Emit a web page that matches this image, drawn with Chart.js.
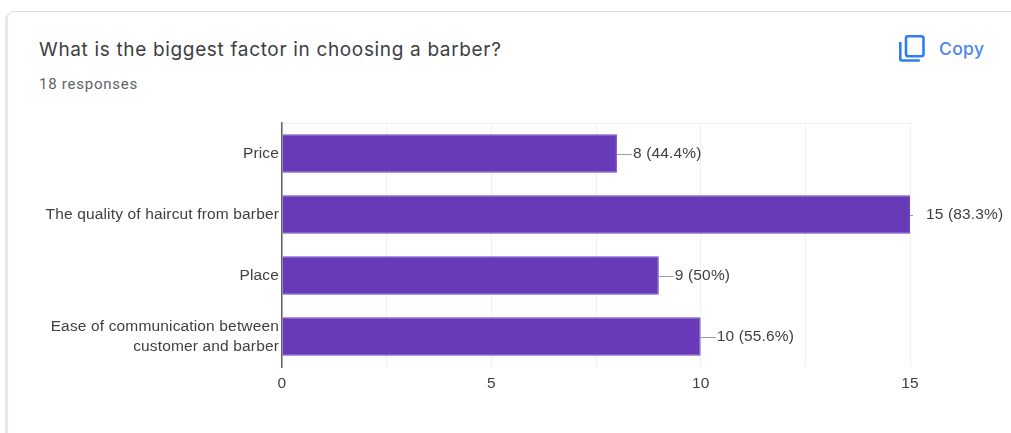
<!DOCTYPE html>
<html>
<head>
<meta charset="utf-8">
<title>Barber survey</title>
<script src="https://cdn.jsdelivr.net/npm/chart.js@4/dist/chart.umd.min.js"></script>
<style>
    html, body { margin: 0; padding: 0; background: #fff; overflow: hidden; }
    #page { position: relative; width: 1011px; height: 433px; }
    #chartBox { position: absolute; left: 0; top: 0; width: 1011px; height: 433px; }
    /* Tarjeta del formulario, se corta por la derecha y por abajo */
    .card {
        position: absolute; left: 5px; top: 11px; width: 1100px; height: 500px;
        box-sizing: border-box;
        border-top: 1.5px solid #dedde2;
        border-left: 3px solid #e8e6f3;
        border-top-left-radius: 9px;
    }
    .title {
        position: absolute; left: 39px; top: 38px;
        font: 400 19px Inter, sans-serif; letter-spacing: 0.66px; color: #3c4043;
        white-space: nowrap;
    }
    .responses {
        position: absolute; left: 39px; top: 75px;
        font: 400 15px Roboto, sans-serif; letter-spacing: 0.75px; color: #5f6368;
        white-space: nowrap;
    }
    .copy {
        position: absolute; left: 939px; top: 38px;
        font: 500 17.5px Inter, sans-serif; letter-spacing: 0.35px; color: #4a86f0;
        white-space: nowrap;
    }
    .icon { position: absolute; left: 896px; top: 32px; }
</style>
</head>
<body>
<div id="page">
    <div class="card"></div>
    <div class="title">What is the biggest factor in choosing a barber?</div>
    <div class="responses">18 responses</div>
    <svg class="icon" width="32" height="32" viewBox="0 0 32 32" fill="none" stroke="#2f7df0" stroke-width="2.6">
        <rect x="10" y="4.3" width="17.5" height="20" rx="2"/>
        <path d="M4.3 10v17a1.5 1.5 0 0 0 1.5 1.5h18"/>
    </svg>
    <div class="copy">Copy</div>
    <div id="chartBox"><canvas id="factorChart"></canvas></div>
</div>

<script>
    // Respuestas de la encuesta
    const categories = [
        'Price',
        'The quality of haircut from barber',
        'Place',
        ['Ease of communication between', 'customer and barber']
    ];
    const responseCounts = [8, 15, 9, 10];
    const responsePercents = ['44.4%', '83.3%', '50%', '55.6%'];
    const xTickLabels = [0, 5, 10, 15];

    const barColor = '#673ab7';
    const textColor = '#3f3f3f';
    const gridColor = '#f0f0f0';
    const fontFamily = '"Liberation Sans", Arial, sans-serif';
    const labelSpacing = '0.15px';

    // El contexto se reinicia al redimensionar, asi que el espaciado se pone antes de cada dibujo
    const textSpacing = {
        id: 'textSpacing',
        beforeDraw(chart) {
            chart.ctx.letterSpacing = labelSpacing;
        }
    };

    // Etiqueta de valor al final de cada barra, con su linea guia
    const barValueLabels = {
        id: 'barValueLabels',
        afterDatasetsDraw(chart) {
            const { ctx, scales } = chart;
            ctx.save();
            ctx.font = `15.5px ${fontFamily}`;
            ctx.textBaseline = 'middle';
            ctx.textAlign = 'left';
            responseCounts.forEach((count, i) => {
                const xEnd = scales.x.getPixelForValue(count);
                const y = scales.y.getPixelForValue(i);
                // En el maximo del eje la guia casi no se ve
                const guide = count === scales.x.max ? 3 : 15;
                ctx.strokeStyle = '#9e9e9e';
                ctx.lineWidth = 1;
                ctx.beginPath();
                ctx.moveTo(xEnd, Math.round(y) + 0.5);
                ctx.lineTo(xEnd + guide, Math.round(y) + 0.5);
                ctx.stroke();
                ctx.fillStyle = textColor;
                ctx.fillText(`${count} (${responsePercents[i]})`, xEnd + 16, y);
            });
            ctx.restore();
        }
    };

    new Chart(document.getElementById('factorChart').getContext('2d'), {
        type: 'bar',
        data: {
            labels: categories,
            datasets: [{
                data: responseCounts,
                backgroundColor: barColor,
                borderColor: '#7549c4',
                borderWidth: 1,
                barPercentage: 0.63,
                categoryPercentage: 1
            }]
        },
        options: {
            indexAxis: 'y',
            responsive: true,
            maintainAspectRatio: false,
            animation: false,
            layout: { padding: { top: 123, right: 101, bottom: 0, left: 0 } },
            plugins: { legend: { display: false }, tooltip: { enabled: false } },
            scales: {
                x: {
                    min: 0,
                    max: 15,
                    ticks: {
                        stepSize: 2.5,
                        maxRotation: 0,
                        autoSkip: false,
                        padding: 7,
                        color: textColor,
                        font: { family: fontFamily, size: 15.5 },
                        // Solo los valores de la lista llevan texto
                        callback: value => xTickLabels.includes(value) ? value : ''
                    },
                    grid: {
                        color: gridColor,
                        lineWidth: 1,
                        drawTicks: false
                    },
                    border: { display: false },
                    afterFit: scale => { scale.height = 66; }
                },
                y: {
                    ticks: {
                        padding: 3,
                        color: textColor,
                        autoSkip: false,
                        font: { family: fontFamily, size: 15.5, lineHeight: 1.26 }
                    },
                    grid: {
                        // Solo el borde superior e inferior del area de datos
                        color: ctx => (ctx.index === 0 || ctx.index === categories.length) ? gridColor : 'transparent',
                        offset: true,
                        drawTicks: false
                    },
                    border: { display: true, color: '#616161', width: 1.5 },
                    afterFit: scale => { scale.width = 282; }
                }
            }
        },
        plugins: [textSpacing, barValueLabels]
    });
</script>
</body>
</html>
